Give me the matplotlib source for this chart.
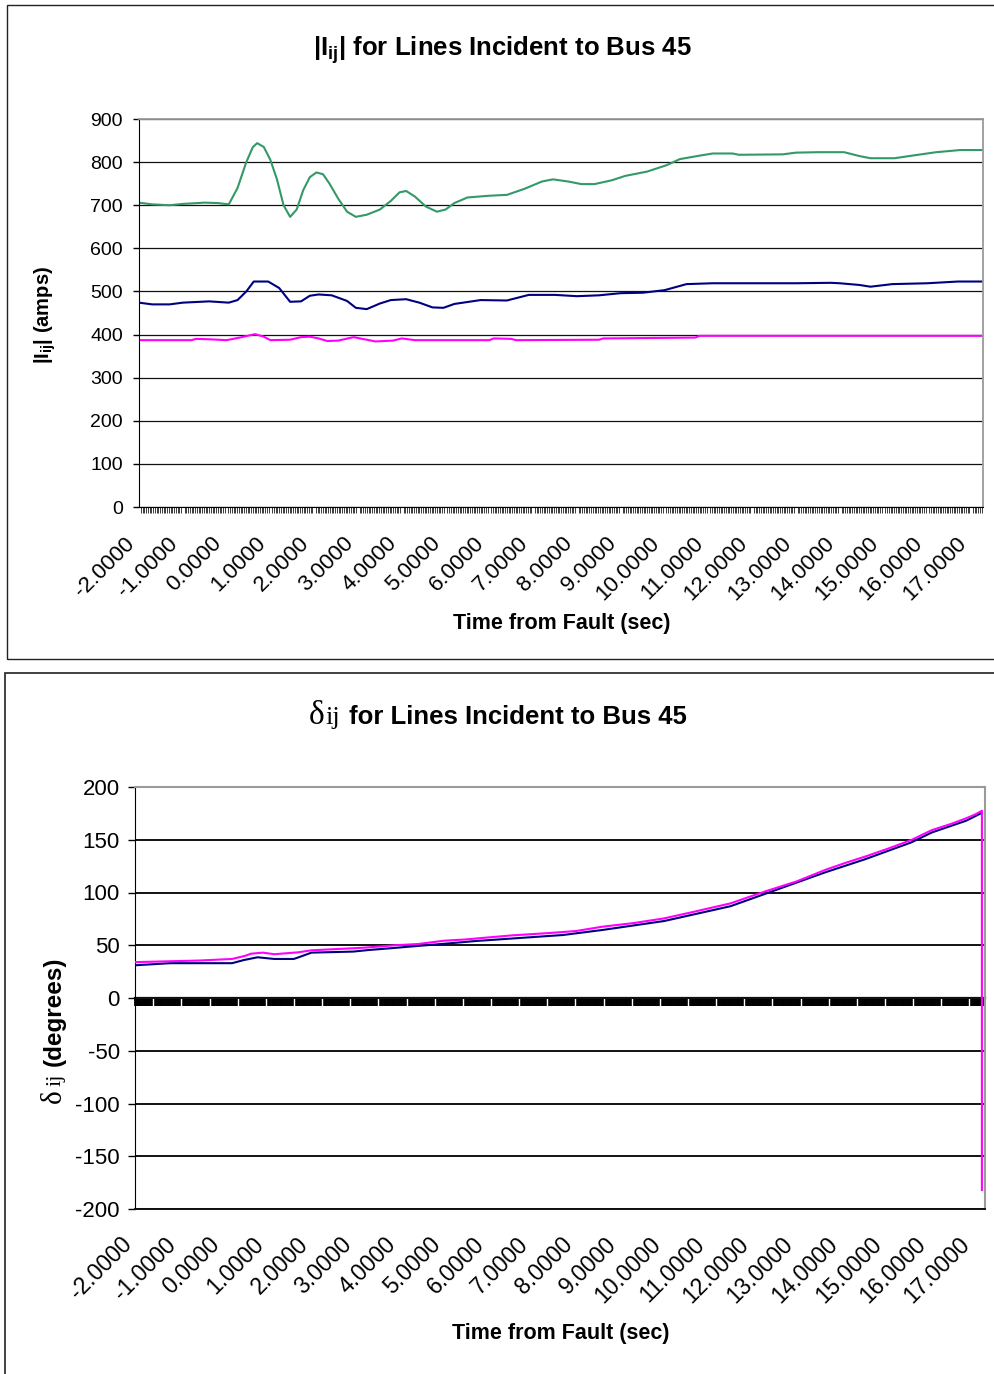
import matplotlib
matplotlib.use("Agg")
import numpy as np
import matplotlib.pyplot as plt
from matplotlib.patches import Rectangle
from matplotlib.transforms import ScaledTranslation
from matplotlib.ticker import MultipleLocator, FixedLocator, FuncFormatter, NullLocator, NullFormatter

plt.rcParams["font.family"] = ["Liberation Sans", "DejaVu Sans"]
plt.rcParams["axes.unicode_minus"] = False
plt.rcParams["mathtext.fontset"] = "custom"
plt.rcParams["mathtext.rm"] = "Liberation Serif"
plt.rcParams["mathtext.it"] = "Liberation Serif:italic"
plt.rcParams["mathtext.bf"] = "Liberation Sans:bold"

# ---------------- data: line current magnitudes |Iij| (amps) ----------------
green_t = [-2.0, -1.7, -1.3, -1.0, -0.5, -0.2, 0.05, 0.25, 0.45, 0.6, 0.7, 0.85,
           1.0, 1.15, 1.3, 1.45, 1.6, 1.75, 1.9, 2.05, 2.2, 2.35, 2.55, 2.75,
           2.95, 3.2, 3.5, 3.75, 3.95, 4.1, 4.3, 4.55, 4.8, 5.0, 5.2, 5.5, 6.0,
           6.4, 6.8, 7.2, 7.45, 7.8, 8.1, 8.4, 8.8, 9.1, 9.6, 10.05, 10.35,
           10.8, 11.1, 11.55, 11.7, 12.7, 13.0, 13.5, 14.1, 14.45, 14.7, 15.25,
           15.65, 16.2, 16.75, 17.27]
green_v = [706, 702, 700, 703, 706, 705, 702, 740, 800, 835, 844, 835,
           805, 760, 700, 673, 690, 735, 765, 776, 772, 750, 715, 685,
           673, 678, 690, 710, 730, 733, 720, 697, 685, 690, 705, 718, 722,
           724, 738, 755, 760, 755, 749, 749, 758, 768, 778, 793, 807,
           815, 820, 820, 817, 818, 822, 823, 823, 814, 809, 809,
           815, 823, 828, 828]

navy_t = [-2.0, -1.7, -1.3, -1.0, -0.4, 0.05, 0.25, 0.45, 0.62, 0.95, 1.2, 1.45,
          1.7, 1.9, 2.1, 2.4, 2.75, 2.95, 3.2, 3.5, 3.75, 4.1, 4.4, 4.7, 4.95,
          5.2, 5.8, 6.4, 6.9, 7.5, 8.0, 8.5, 9.0, 9.5, 10.0, 10.5, 11.1, 12.0,
          13.0, 13.8, 14.0, 14.45, 14.7, 15.2, 16.0, 16.7, 17.27]
navy_v = [474, 470, 470, 474, 477, 474, 480, 500, 523, 523, 508, 476,
          477, 490, 493, 491, 478, 462, 459, 472, 480, 482, 474, 463, 462,
          471, 480, 479, 492, 492, 489, 491, 496, 497, 503, 517, 519, 519,
          519, 520, 519, 515, 511, 517, 519, 523, 523]

pink_t = [-2.0, -0.8, -0.7, -0.4, 0.0, 0.3, 0.65, 0.85, 1.0, 1.45, 1.7, 1.9,
          2.1, 2.3, 2.55, 2.9, 3.1, 3.4, 3.8, 4.0, 4.3, 6.0, 6.1, 6.5, 6.6,
          8.5, 8.6, 10.7, 10.8, 17.27]
pink_v = [387, 387, 390, 389, 387, 393, 401, 395, 387, 388, 394, 395,
          391, 385, 386, 394, 390, 384, 386, 391, 387, 387, 391, 390, 387,
          388, 391, 393, 397, 397]

# ---------------- data: angle differences delta_ij (degrees) ----------------
dnavy_t = [-2.0, -1.2, 0.2, 0.47, 0.78, 1.16, 1.6, 1.75, 2.0, 2.95, 3.3, 3.78,
           4.2, 5.12, 5.72, 6.83, 7.7, 8.6, 10.0, 11.5, 12.27, 13.64, 14.55,
           15.6, 16.07, 16.84, 17.2]
dnavy_v = [31, 33, 33, 36, 38.6, 37, 37, 39.2, 43, 44, 45.5, 47.1,
           48.6, 51.8, 54, 57.2, 59.7, 64.5, 73, 87, 98.5, 119, 131.5,
           147.5, 157, 168, 175.5]

dpink_t = [-2.0, -0.55, 0.2, 0.5, 0.63, 0.9, 1.16, 1.7, 2.0, 3.2, 3.9, 4.43,
           5.0, 5.5, 5.95, 6.56, 7.4, 8.0, 8.6, 9.3, 10.0, 10.7, 11.5, 12.27,
           13.0, 13.64, 14.1, 14.55, 15.1, 15.6, 16.07, 16.5, 16.84, 17.05,
           17.2, 17.2]
dpink_v = [34, 35.5, 37, 40, 42, 43, 41.5, 43.3, 45.2, 47.7, 50, 51.2,
           54.3, 55.5, 57.2, 59.4, 61.6, 63.5, 67.6, 71, 75.5, 82, 89.7, 100.8,
           110.5, 121.3, 128, 134, 142, 149.8, 159.2, 165, 170.3, 174,
           177.5, -182]

x_ticks = list(range(-2, 18))
t_min, t_max = -2.0, 17.27

GREEN = "#339966"
NAVY = "#000080"
PINK = "#FF00FF"

W, H = 994, 1374
fig = plt.figure(figsize=(W / 100, H / 100), dpi=100)


def fx(p):
    return p / W


def fy(p):
    return 1 - p / H


# chart-area frames
fig.add_artist(Rectangle((fx(7), fy(659)), 1.0, fy(5) - fy(659),
                         transform=fig.transFigure, fill=False,
                         edgecolor="#222222", lw=1.0, clip_on=False))
fig.add_artist(Rectangle((fx(5), -0.2), 1.0, fy(673) + 0.2,
                         transform=fig.transFigure, fill=False,
                         edgecolor="#333333", lw=1.3, clip_on=False))

fmt = FuncFormatter(lambda v, p: f"{v:.4f}")


def style_xlabels(ax, size, pad, shift_px):
    ax.set_xticks(x_ticks)
    ax.xaxis.set_major_formatter(fmt)
    ax.tick_params(axis="x", which="major", length=0, pad=pad, labelsize=size)
    offset = ScaledTranslation(-shift_px / 100, 0, fig.dpi_scale_trans)
    for lbl in ax.get_xticklabels():
        lbl.set_rotation(45)
        lbl.set_ha("right")
        lbl.set_va("center")
        lbl.set_rotation_mode("anchor")
        lbl.set_transform(lbl.get_transform() + offset)


# ---------------- top panel ----------------
ax1 = fig.add_axes([fx(139), fy(507), fx(983) - fx(139), fy(119) - fy(507)])
ax1.plot(green_t, green_v, color=GREEN, lw=1.5)
ax1.plot(navy_t, navy_v, color=NAVY, lw=1.5)
ax1.plot(pink_t, pink_v, color=PINK, lw=1.5)
ax1.set_xlim(t_min, t_max)
ax1.set_ylim(0, 900)
ax1.set_yticks(range(0, 901, 100))
ax1.yaxis.grid(True, color="#111111", lw=0.9)
ax1.set_axisbelow(True)
for s in ("top", "right"):
    ax1.spines[s].set_color("#9a9a9a")
    ax1.spines[s].set_linewidth(1.3)
ax1.spines["left"].set_color("black")
ax1.spines["bottom"].set_color("black")
ax1.tick_params(axis="y", length=4.5, width=1, pad=7, labelsize=14)
style_xlabels(ax1, 16, 24, 8)
ax1.xaxis.set_minor_locator(MultipleLocator(0.04))
ax1.tick_params(axis="x", which="minor", length=4.5, width=0.7,
                color="#3a3a3a", direction="out")

fig.text(fx(502), fy(56), r"$\mathbf{|I_{ij}|}$ for Lines Incident to Bus 45",
         ha="center", va="baseline", weight="bold", size=18.5)
fig.text(fx(45), fy(315), r"$\mathbf{|I_{ij}|}$ (amps)", rotation=90,
         ha="center", va="center", weight="bold", size=14.5)
fig.text(fx(562), fy(629), "Time from Fault (sec)", ha="center",
         va="baseline", weight="bold", size=15.5)

# ---------------- bottom panel ----------------
ax2 = fig.add_axes([fx(135), fy(1209), fx(985) - fx(135), fy(787) - fy(1209)])
ax2.plot(dnavy_t, dnavy_v, color=NAVY, lw=1.5, zorder=3)
ax2.plot(dpink_t, dpink_v, color=PINK, lw=1.5, zorder=3)
ax2.set_xlim(t_min, t_max)
ax2.set_ylim(-200, 200)
ax2.set_yticks(range(-200, 201, 50))
ax2.yaxis.grid(True, color="#111111", lw=1.4)
ax2.set_axisbelow(True)
for s in ("top", "right"):
    ax2.spines[s].set_color("#9a9a9a")
    ax2.spines[s].set_linewidth(1.5)
ax2.spines["left"].set_color("black")
ax2.spines["bottom"].set_color("#111111")
ax2.spines["bottom"].set_linewidth(1.4)
ax2.tick_params(axis="y", length=5, width=1, pad=6, labelsize=16)
style_xlabels(ax2, 16.5, 23, 7)

# category axis crossing at zero: dense tick band with periodic gaps
zero_axis = ax2.secondary_xaxis(0.4999)
zero_axis.xaxis.set_major_locator(NullLocator())
zero_axis.xaxis.set_minor_locator(MultipleLocator(0.02))
zero_axis.xaxis.set_minor_formatter(NullFormatter())
zero_axis.tick_params(axis="x", which="minor", length=5.8, width=1.3,
                      color="black", direction="out")
zero_axis.spines["bottom"].set_linewidth(1.6)
zero_axis.spines["bottom"].set_color("black")

gap_axis = ax2.secondary_xaxis(0.4999)
gap_axis.xaxis.set_major_locator(FixedLocator(np.arange(-1.585, 17.2, 0.638)))
gap_axis.xaxis.set_major_formatter(NullFormatter())
gap_axis.tick_params(axis="x", which="major", length=5.8, width=1.0,
                     color="white", direction="out")
gap_axis.spines["bottom"].set_visible(False)

fig.text(fx(309), fy(724), "δ", family="Liberation Serif", size=24, va="baseline")
fig.text(fx(325), fy(724), "ij", family="Liberation Serif", size=19, va="baseline")
fig.text(fx(349), fy(724), "for Lines Incident to Bus 45", weight="bold",
         size=18.5, va="baseline")

fig.text(fx(61), fy(1103), "δ", family="Liberation Serif", size=21,
         rotation=90, rotation_mode="anchor", ha="left", va="baseline")
fig.text(fx(61), fy(1086), "ij", family="Liberation Serif", size=16,
         rotation=90, rotation_mode="anchor", ha="left", va="baseline")
fig.text(fx(61), fy(1066), "(degrees)", weight="bold", size=17.5,
         rotation=90, rotation_mode="anchor", ha="left", va="baseline")

fig.text(fx(561), fy(1339), "Time from Fault (sec)", ha="center",
         va="baseline", weight="bold", size=15.5)

fig.savefig("out.png", dpi=100)
